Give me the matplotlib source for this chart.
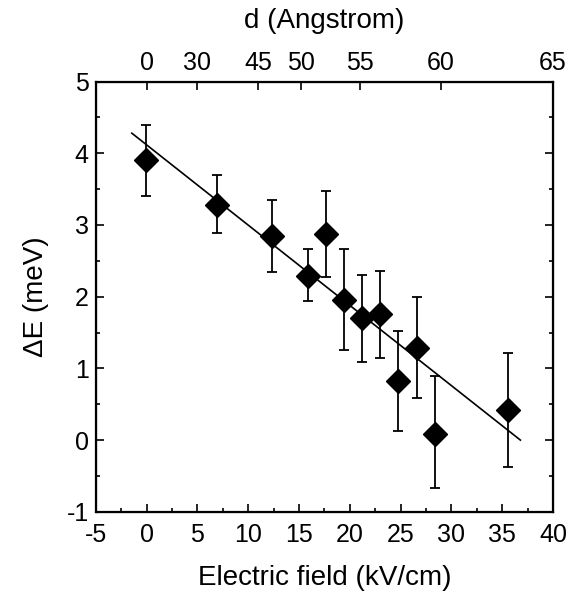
import matplotlib.pyplot as plt
from matplotlib.ticker import MultipleLocator
import numpy as np

plt.rcParams['font.family'] = ['Liberation Sans', 'DejaVu Sans']
plt.rcParams['axes.unicode_minus'] = False

# measured points: electric field (kV/cm), energy shift (meV), error bar ends
field = [-0.1, 6.9, 12.3, 15.9, 17.7, 19.4, 21.2, 23.0, 24.8, 26.6, 28.4, 35.6]
dE = [3.90, 3.28, 2.85, 2.29, 2.87, 1.96, 1.70, 1.76, 0.82, 1.29, 0.09, 0.42]
err_top = [4.40, 3.70, 3.35, 2.66, 3.47, 2.67, 2.30, 2.36, 1.52, 2.00, 0.89, 1.22]
err_bot = [3.40, 2.89, 2.35, 1.94, 2.27, 1.26, 1.09, 1.15, 0.13, 0.59, -0.67, -0.38]

# linear fit line end points
fit_x = [-1.45, 36.8]
fit_y = [4.28, 0.0]

# top axis: well width d (Angstrom) at matching field positions
top_pos = [0, 5, 11, 15.2, 21, 29, 40]
top_labels = ['0', '30', '45', '50', '55', '60', '65']

fig = plt.figure(figsize=(5.70, 5.91), dpi=100)
ax = fig.add_axes([0.168, 0.134, 0.802, 0.728])

y = np.array(dE)
yerr = [y - np.array(err_bot), np.array(err_top) - y]
ax.errorbar(field, dE, yerr=yerr, fmt='none', ecolor='black',
            elinewidth=1.3, capsize=3.5, capthick=1.3, zorder=2)
ax.plot(fit_x, fit_y, color='black', lw=1.2, zorder=3)
ax.plot(field, dE, ls='none', marker='D', ms=12, color='black', zorder=4)

ax.set_xlim(-5, 40)
ax.set_ylim(-1, 5)
ax.xaxis.set_major_locator(MultipleLocator(5))
ax.xaxis.set_minor_locator(MultipleLocator(2.5))
ax.yaxis.set_major_locator(MultipleLocator(1))
ax.yaxis.set_minor_locator(MultipleLocator(0.5))
ax.tick_params(which='both', direction='in', top=False, right=True,
               width=1.2, labelsize=18)
ax.tick_params(which='major', length=6)
ax.tick_params(which='minor', length=3)
ax.tick_params(axis='x', pad=8)
ax.tick_params(axis='y', pad=5)
for s in ax.spines.values():
    s.set_linewidth(1.6)

ax.set_xlabel('Electric field (kV/cm)', fontsize=20, labelpad=13)
ax.set_ylabel('ΔE (meV)', fontsize=20, labelpad=13)

top = ax.twiny()
top.set_xlim(ax.get_xlim())
top.set_xticks(top_pos)
top.set_xticklabels(top_labels)
top.tick_params(direction='in', length=6, width=1.2, labelsize=18, pad=5)
top.set_xlabel('d (Angstrom)', fontsize=20, labelpad=16)

fig.savefig('out.png', dpi=100)
